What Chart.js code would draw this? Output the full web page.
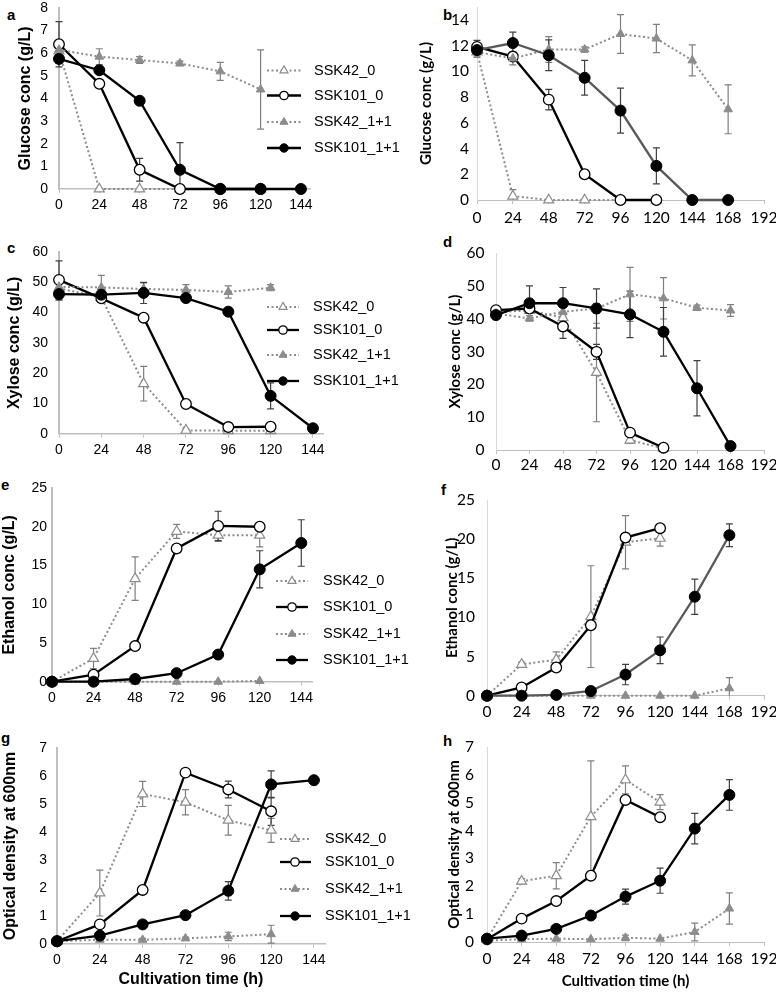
<!DOCTYPE html>
<html>
<head>
<meta charset="utf-8">
<title>Sugar, ethanol and OD time courses</title>
<script src="https://cdn.jsdelivr.net/npm/chart.js@4.4.1/dist/chart.umd.min.js"></script>
<style>
  html, body { margin: 0; padding: 0; background: #fff; }
  #fig { position: relative; width: 776px; height: 993px; overflow: hidden; }
  #fig canvas { position: absolute; }
  .tag { position: absolute; font: bold 15px "Liberation Sans", Arial, sans-serif; line-height: 17px; color: #000; }
</style>
</head>
<body>
<div id="fig">
  <div class="tag" style="left:7px;top:6px">a</div>
  <div class="tag" style="left:443px;top:6px">b</div>
  <div class="tag" style="left:7px;top:239px">c</div>
  <div class="tag" style="left:443px;top:233px">d</div>
  <div class="tag" style="left:1px;top:476px">e</div>
  <div class="tag" style="left:441px;top:481px">f</div>
  <div class="tag" style="left:1px;top:729px">g</div>
  <div class="tag" style="left:443px;top:732px">h</div>
</div>
<script>
// sampling times (h) and axis ticks
const hoursLeft  = [0, 24, 48, 72, 96, 120, 144];
const hoursRight = [0, 24, 48, 72, 96, 120, 144, 168];
const xTicksLeft  = [0, 24, 48, 72, 96, 120, 144];
const xTicksRight = [0, 24, 48, 72, 96, 120, 144, 168, 192];
const yTicksGlcA = [0, 1, 2, 3, 4, 5, 6, 7, 8];
const yTicksGlcB = [0, 2, 4, 6, 8, 10, 12, 14];
const yTicksXyl  = [0, 10, 20, 30, 40, 50, 60];
const yTicksEtoh = [0, 5, 10, 15, 20, 25];
const yTicksOD   = [0, 1, 2, 3, 4, 5, 6, 7];
const strains = ['SSK42_0', 'SSK101_0', 'SSK42_1+1', 'SSK101_1+1'];

// a: glucose
const aSSK42_0      = [6.1, 0, 0, 0, 0, 0];
const aSSK42_0Err   = [0, 0, 0, 0, 0, 0];
const aSSK101_0     = [6.4, 4.65, 0.85, 0, 0, 0];
const aSSK101_0Err  = [1.0, 0.15, 0.5, 0, 0, 0];
const aSSK42_11     = [6.15, 5.85, 5.7, 5.55, 5.2, 4.4];
const aSSK42_11Err  = [0.3, 0.35, 0.15, 0.1, 0.4, 1.75];
const aSSK101_11    = [5.75, 5.25, 3.9, 0.85, 0, 0, 0];
const aSSK101_11Err = [0.2, 0.15, 0.1, 1.2, 0, 0, 0];

// b: glucose
const bSSK42_0      = [11.5, 0.3, 0, 0, 0, 0];
const bSSK42_0Err   = [0.4, 0.5, 0, 0, 0, 0];
const bSSK101_0     = [11.9, 11.15, 7.8, 2.0, 0, 0];
const bSSK101_0Err  = [0.5, 0.3, 0.8, 0.2, 0, 0];
const bSSK42_11     = [11.5, 11.0, 11.7, 11.7, 12.9, 12.55, 10.85, 7.05];
const bSSK42_11Err  = [0.4, 0.5, 1.0, 0.2, 1.5, 1.1, 1.2, 1.9];
const bSSK101_11    = [11.65, 12.2, 11.25, 9.5, 6.95, 2.65, 0, 0];
const bSSK101_11Err = [0.3, 0.85, 1.2, 1.35, 1.75, 1.4, 0, 0];

// c: xylose
const cSSK42_0      = [48, 45, 16.5, 1.1, 1, 1];
const cSSK42_0Err   = [2, 1, 5.7, 0.4, 0.4, 0.4];
const cSSK101_0     = [50.8, 44.7, 38.3, 9.8, 2.2, 2.3];
const cSSK101_0Err  = [6.3, 0.8, 0.5, 0.5, 0.3, 0.3];
const cSSK42_11     = [48.5, 48.3, 47.8, 47.5, 46.8, 48.2];
const cSSK42_11Err  = [3, 4, 2, 1.7, 2, 1];
const cSSK101_11    = [46.1, 45.9, 46.5, 44.8, 40.3, 12.5, 1.8];
const cSSK101_11Err = [2, 1, 3.5, 1, 0.5, 4.3, 0];

// d: xylose
const dSSK42_0      = [42, 42.5, 40.3, 23.6, 3.0, 0.5];
const dSSK42_0Err   = [0, 0, 1, 15, 1, 0];
const dSSK101_0     = [42.6, 43.1, 37.6, 29.9, 5.3, 0.7];
const dSSK101_0Err  = [0.5, 0.5, 3.6, 2.3, 0.5, 0];
const dSSK42_11     = [41.5, 40.1, 42.1, 43.1, 47.4, 46.2, 43.3, 42.5];
const dSSK42_11Err  = [0.5, 0.8, 1.5, 1.5, 8.2, 6.3, 0.8, 1.8];
const dSSK101_11    = [41.1, 44.7, 44.7, 43.1, 41.3, 36, 18.8, 1.2];
const dSSK101_11Err = [0.8, 5.3, 4.8, 6, 7.1, 7.4, 8.4, 0.3];

// e: ethanol
const eSSK42_0      = [0, 3, 13.3, 19.4, 18.9, 18.9];
const eSSK42_0Err   = [0, 1.3, 2.8, 0.9, 0.8, 1.5];
const eSSK101_0     = [0, 0.9, 4.6, 17.2, 20.1, 20];
const eSSK101_0Err  = [0, 0.2, 0.2, 0.3, 1.9, 0.5];
const eSSK42_11     = [0, 0, 0, 0, 0, 0.1];
const eSSK42_11Err  = [0, 0, 0, 0, 0, 0];
const eSSK101_11    = [0, 0, 0.35, 1.1, 3.5, 14.5, 17.9];
const eSSK101_11Err = [0, 0, 0, 0, 0.2, 2.4, 3];

// f: ethanol
const fSSK42_0      = [0, 4.0, 4.6, 10.1, 19.6, 20.1];
const fSSK42_0Err   = [0, 0.3, 1.0, 6.5, 3.4, 1.0];
const fSSK101_0     = [0, 1.05, 3.6, 9.0, 20.2, 21.4];
const fSSK101_0Err  = [0, 0.2, 0.3, 0.5, 0.5, 0.3];
const fSSK42_11     = [0, 0, 0, 0, 0, 0, 0, 0.95];
const fSSK42_11Err  = [0, 0, 0, 0, 0, 0, 0, 1.35];
const fSSK101_11    = [0, 0, 0.1, 0.6, 2.7, 5.8, 12.65, 20.5];
const fSSK101_11Err = [0, 0, 0, 0, 1.3, 1.7, 2.25, 1.45];

// g: OD600
const gSSK42_0      = [0.1, 1.82, 5.36, 5.06, 4.42, 4.06];
const gSSK42_0Err   = [0, 0.82, 0.45, 0.45, 0.53, 0.43];
const gSSK101_0     = [0.1, 0.7, 1.93, 6.12, 5.52, 4.74];
const gSSK101_0Err  = [0, 0.05, 0.05, 0.05, 0.3, 0.5];
const gSSK42_11     = [0.1, 0.15, 0.15, 0.2, 0.27, 0.35];
const gSSK42_11Err  = [0, 0.05, 0.05, 0.05, 0.15, 0.32];
const gSSK101_11    = [0.1, 0.3, 0.7, 1.03, 1.9, 5.7, 5.85];
const gSSK101_11Err = [0, 0.05, 0.05, 0.05, 0.33, 0.48, 0];

// h: OD600
const hSSK42_0      = [0.1, 2.18, 2.38, 4.5, 5.82, 5.02];
const hSSK42_0Err   = [0, 0.1, 0.47, 2.0, 0.5, 0.27];
const hSSK101_0     = [0.1, 0.84, 1.47, 2.38, 5.1, 4.48];
const hSSK101_0Err  = [0, 0.05, 0.05, 0.1, 0.1, 0.1];
const hSSK42_11     = [0.05, 0.1, 0.12, 0.1, 0.15, 0.12, 0.36, 1.2];
const hSSK42_11Err  = [0, 0, 0, 0, 0.1, 0, 0.32, 0.56];
const hSSK101_11    = [0.12, 0.23, 0.47, 0.95, 1.63, 2.2, 4.07, 5.28];
const hSSK101_11Err = [0, 0.05, 0.05, 0.05, 0.27, 0.45, 0.55, 0.55];

const leftFont = '"Liberation Sans", Arial, sans-serif';
const rightFont = 'Lato, "Open Sans", sans-serif';

const looks = {
  'SSK42_0':    { line: '#8c8c8c', width: 2,   dash: [2, 2.5], point: 'triangle', fill: '#fff',    stroke: '#8c8c8c', pw: 1.2, r: 5.8, err: '#7f7f7f', order: 3 },
  'SSK101_0':   { line: '#000',    width: 2.3, dash: [],       point: 'circle',   fill: '#fff',    stroke: '#000',    pw: 1.3, r: 5.3, err: '#404040', order: 2 },
  'SSK42_1+1':  { line: '#8c8c8c', width: 2,   dash: [2, 2.5], point: 'triangle', fill: '#8c8c8c', stroke: '#8c8c8c', pw: 1,   r: 5,   err: '#7f7f7f', order: 1 },
  'SSK101_1+1': { line: '#000',    width: 2.3, dash: [],       point: 'circle',   fill: '#000',    stroke: '#000',    pw: 1,   r: 5.5, err: '#404040', order: 0 }
};

function drawMarker(ctx, style, x, y, r, fill, stroke, bw) {
  ctx.beginPath();
  if (style === 'circle') {
    ctx.arc(x, y, r, 0, Math.PI * 2);
  } else {
    for (let k = 0; k < 3; k++) {
      const a = k * 2 * Math.PI / 3;
      const px = x + Math.sin(a) * r, py = y - Math.cos(a) * r;
      k ? ctx.lineTo(px, py) : ctx.moveTo(px, py);
    }
    ctx.closePath();
  }
  ctx.fillStyle = fill; ctx.fill();
  ctx.strokeStyle = stroke; ctx.lineWidth = bw; ctx.stroke();
}

// error bars go under the markers
const errorBars = {
  id: 'errorBars',
  beforeDatasetsDraw(chart) {
    const { ctx, scales: { x, y } } = chart;
    ctx.save();
    ctx.lineWidth = 1.2;
    chart.data.datasets.forEach(ds => {
      ctx.strokeStyle = ds.errColor;
      ds.data.forEach((pt, j) => {
        const e = ds.errors[j];
        if (!e) return;
        const px = x.getPixelForValue(pt.x);
        const hi = y.getPixelForValue(pt.y + e);
        const low = pt.y - e;
        const lo = y.getPixelForValue(Math.max(low, 0));
        ctx.beginPath();
        ctx.moveTo(px, hi); ctx.lineTo(px, lo);
        ctx.moveTo(px - 3.5, hi); ctx.lineTo(px + 3.5, hi);
        if (low >= 0) { ctx.moveTo(px - 3.5, lo); ctx.lineTo(px + 3.5, lo); }
        ctx.stroke();
      });
    });
    ctx.restore();
  }
};

function sideLegend(cfg) {
  return {
    id: 'sideLegend',
    afterDraw(chart) {
      const ctx = chart.ctx;
      ctx.save();
      chart.data.datasets.forEach((ds, i) => {
        const y = cfg.rows[i];
        ctx.beginPath();
        ctx.setLineDash(ds.borderDash);
        ctx.strokeStyle = ds.borderColor;
        ctx.lineWidth = ds.borderWidth;
        ctx.moveTo(cfg.x0, y); ctx.lineTo(cfg.x1, y); ctx.stroke();
        ctx.setLineDash([]);
        drawMarker(ctx, ds.pointStyle, cfg.mx, y, ds.pointStyle === 'circle' ? 4.2 : 4.6,
          ds.pointBackgroundColor, ds.pointBorderColor, ds.pointBorderWidth);
        ctx.fillStyle = '#000';
        ctx.font = '14.5px ' + leftFont;
        ctx.textAlign = 'left';
        ctx.textBaseline = 'middle';
        ctx.fillText(ds.label, cfg.tx, y);
      });
      ctx.restore();
    }
  };
}

function makeSet(name, hours, vals, errs, lineColor) {
  const st = looks[name];
  return {
    label: name,
    data: vals.map((v, i) => ({ x: hours[i], y: v })),
    errors: errs,
    errColor: st.err,
    borderColor: lineColor || st.line,
    borderWidth: st.width,
    borderDash: st.dash,
    pointStyle: st.point,
    pointRadius: st.r,
    pointBackgroundColor: st.fill,
    pointBorderColor: st.stroke,
    pointBorderWidth: st.pw,
    order: st.order,
    clip: false,
    tension: 0,
    fill: false
  };
}

function panel(p) {
  const [bx, by, bw, bh] = p.box;
  const [al, at, ar, ab] = p.area;
  const cv = document.createElement('canvas');
  cv.width = bw; cv.height = bh;
  cv.style.left = bx + 'px'; cv.style.top = by + 'px';
  document.getElementById('fig').appendChild(cv);

  const left = p.side === 'left';
  const family = left ? leftFont : rightFont;
  const tickFont = { family, size: left ? 14 : 15.5 };
  const titleSize = left ? 16 : 15;
  const titleFont = { family, size: titleSize, weight: 'bold' };
  const lh = titleSize * 1.2;
  const hours = left ? hoursLeft : hoursRight;
  const xTicks = left ? xTicksLeft : xTicksRight;

  const datasets = strains.map((name, i) =>
    makeSet(name, hours, p.series[i][0], p.series[i][1], i === 3 ? p.dark11 : null));

  const plugins = [errorBars];
  if (p.legend) plugins.push(sideLegend({
    x0: p.legend.x0, x1: p.legend.x1, mx: p.legend.mx, tx: p.legend.tx,
    rows: p.legend.rows.map(r => r - by)
  }));

  new Chart(cv, {
    type: 'line',
    data: { datasets },
    plugins,
    options: {
      responsive: false,
      animation: false,
      devicePixelRatio: 1,
      layout: { padding: { left: 0, top: at - by, right: bx + bw - ar, bottom: 0 } },
      plugins: { legend: { display: false }, tooltip: { enabled: false } },
      scales: {
        x: {
          type: 'linear', min: 0, max: p.xMax,
          afterBuildTicks: s => { s.ticks = xTicks.map(v => ({ value: v })); },
          afterFit: s => { s.height = by + bh - ab; s.paddingLeft = 0; s.paddingRight = 0; },
          ticks: { font: tickFont, color: '#000', padding: p.xPad, maxRotation: 0, autoSkip: false },
          grid: { drawOnChartArea: false, tickLength: 4, color: p.xAxisColor, lineWidth: 1 },
          border: { color: p.xAxisColor, width: p.xBorder },
          title: p.xTitle
            ? { display: true, text: p.xTitle, font: titleFont, color: '#000',
                padding: { top: 0, bottom: by + bh - p.xTitleY - lh / 2 } }
            : { display: false }
        },
        y: {
          min: 0, max: p.yMax,
          afterBuildTicks: s => { s.ticks = p.yTicks.map(v => ({ value: v })); },
          afterFit: s => { s.width = al - bx; s.paddingTop = 0; s.paddingBottom = 0; },
          ticks: { font: tickFont, color: '#000', padding: p.yPad },
          grid: { display: false, drawTicks: false },
          border: { color: p.yAxisColor, width: p.yBorder },
          title: { display: true, text: p.yTitle, font: titleFont, color: '#000',
                   padding: { top: p.yTitleX - bx - lh / 2, bottom: 0 } }
        }
      }
    }
  });
}

const leftAxis = { xAxisColor: '#bfbfbf', yAxisColor: '#bfbfbf', xBorder: 1.5, yBorder: 2 };
const rightAxis = { xAxisColor: '#bfbfbf', yAxisColor: '#d9d9d9', xBorder: 1, yBorder: 1 };

panel(Object.assign({
  side: 'left', box: [0, 0, 430, 232], area: [59, 8, 310, 189], xMax: 149.4, yMax: 8, yTicks: yTicksGlcA,
  yTitle: 'Glucose conc (g/L)', yTitleX: 25.5, yPad: 11, xPad: 3.6,
  legend: { x0: 267, x1: 301, mx: 284, tx: 314, rows: [70.5, 95.5, 122, 148] },
  series: [[aSSK42_0, aSSK42_0Err], [aSSK101_0, aSSK101_0Err], [aSSK42_11, aSSK42_11Err], [aSSK101_11, aSSK101_11Err]]
}, leftAxis));

panel(Object.assign({
  side: 'right', box: [400, 0, 376, 232], area: [477, 3, 764, 200], xMax: 192, yMax: 15, yTicks: yTicksGlcB,
  yTitle: 'Glucose conc (g/L)', yTitleX: 426, yPad: 8, xPad: 5, dark11: '#595959',
  series: [[bSSK42_0, bSSK42_0Err], [bSSK101_0, bSSK101_0Err], [bSSK42_11, bSSK42_11Err], [bSSK101_11, bSSK101_11Err]]
}, rightAxis));

panel(Object.assign({
  side: 'left', box: [0, 236, 430, 234], area: [59, 252, 323, 433.7], xMax: 149.7, yMax: 60, yTicks: yTicksXyl,
  yTitle: 'Xylose conc (g/L)', yTitleX: 15, yPad: 11, xPad: 3.9,
  legend: { x0: 267, x1: 299, mx: 283, tx: 313, rows: [307, 330, 355, 381] },
  series: [[cSSK42_0, cSSK42_0Err], [cSSK101_0, cSSK101_0Err], [cSSK42_11, cSSK42_11Err], [cSSK101_11, cSSK101_11Err]]
}, leftAxis));

panel(Object.assign({
  side: 'right', box: [400, 236, 376, 234], area: [496, 253, 764, 450], xMax: 192, yMax: 60, yTicks: yTicksXyl,
  yTitle: 'Xylose conc (g/L)', yTitleX: 455, yPad: 11.5, xPad: 2,
  series: [[dSSK42_0, dSSK42_0Err], [dSSK101_0, dSSK101_0Err], [dSSK42_11, dSSK42_11Err], [dSSK101_11, dSSK101_11Err]]
}, rightAxis));

panel(Object.assign({
  side: 'left', box: [0, 474, 430, 246], area: [52, 488, 312, 681.7], xMax: 150.2, yMax: 25, yTicks: yTicksEtoh,
  yTitle: 'Ethanol conc (g/L)', yTitleX: 10, yPad: 5, xPad: 4.2,
  legend: { x0: 276, x1: 308, mx: 292, tx: 323, rows: [581, 607, 634, 660] },
  series: [[eSSK42_0, eSSK42_0Err], [eSSK101_0, eSSK101_0Err], [eSSK42_11, eSSK42_11Err], [eSSK101_11, eSSK101_11Err]]
}, leftAxis));

panel(Object.assign({
  side: 'right', box: [400, 474, 376, 246], area: [487, 500, 764, 695.7], xMax: 192, yMax: 25, yTicks: yTicksEtoh,
  yTitle: 'Ethanol conc (g/L)', yTitleX: 452, yPad: 12, xPad: 3, dark11: '#595959',
  series: [[fSSK42_0, fSSK42_0Err], [fSSK101_0, fSSK101_0Err], [fSSK42_11, fSSK42_11Err], [fSSK101_11, fSSK101_11Err]]
}, rightAxis));

panel(Object.assign({
  side: 'left', box: [0, 728, 430, 265], area: [57, 748, 325, 944], xMax: 150.2, yMax: 7, yTicks: yTicksOD,
  yTitle: 'Optical density at 600nm', yTitleX: 11, yPad: 10, xPad: 3.6,
  xTitle: 'Cultivation time (h)', xTitleY: 980,
  legend: { x0: 280, x1: 311, mx: 295, tx: 325, rows: [839, 862, 889, 916] },
  series: [[gSSK42_0, gSSK42_0Err], [gSSK101_0, gSSK101_0Err], [gSSK42_11, gSSK42_11Err], [gSSK101_11, gSSK101_11Err]]
}, leftAxis));

panel(Object.assign({
  side: 'right', box: [400, 728, 376, 265], area: [487, 747, 764, 942], xMax: 192, yMax: 7, yTicks: yTicksOD,
  yTitle: 'Optical density at 600nm', yTitleX: 454, yPad: 13, xPad: 3.6,
  xTitle: 'Cultivation time (h)', xTitleY: 981,
  series: [[hSSK42_0, hSSK42_0Err], [hSSK101_0, hSSK101_0Err], [hSSK42_11, hSSK42_11Err], [hSSK101_11, hSSK101_11Err]]
}, rightAxis));
</script>
</body>
</html>
